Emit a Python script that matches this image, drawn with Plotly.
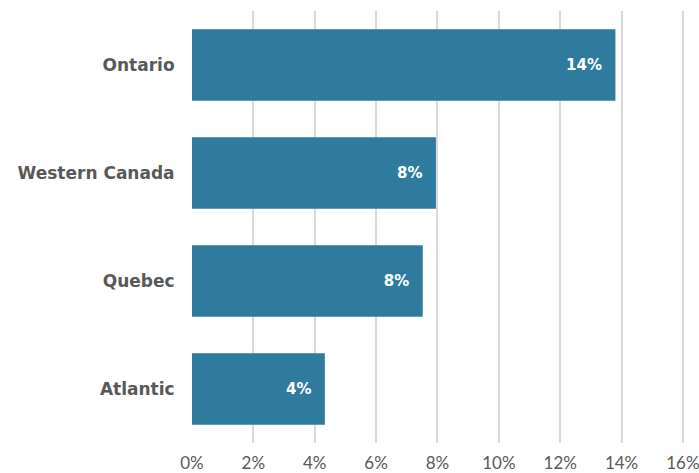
import plotly.graph_objects as go

categories = ["Ontario", "Western Canada", "Quebec", "Atlantic"]
values = [13.8, 7.95, 7.52, 4.33]
labels = ["14%", "8%", "8%", "4%"]
tick_vals = [0, 2, 4, 6, 8, 10, 12, 14, 16]
tick_text = ["0%", "2%", "4%", "6%", "8%", "10%", "12%", "14%", "16%"]

fig = go.Figure(go.Bar(
    y=categories, x=values, orientation="h",
    marker=dict(color="#2e7b9e", line=dict(width=0)),
    text=[t + "  " for t in labels], textposition="inside", insidetextanchor="end",
    textfont=dict(family="DejaVu Sans", size=15, color="white", weight="bold"),
    cliponaxis=False,
))
fig.update_layout(
    width=699, height=473,
    margin=dict(l=192, r=13, t=11, b=30),
    paper_bgcolor="white", plot_bgcolor="white",
    bargap=0.34, showlegend=False,
    font=dict(family="Lato", color="#595959"),
)
fig.update_xaxes(range=[0, 16.1], tickvals=tick_vals, ticktext=tick_text,
                 showgrid=True, gridcolor="#d9d9d9", gridwidth=2,
                 zeroline=False, showline=False, automargin=False,
                 ticklabeloverflow="allow",
                 ticks="outside", ticklen=5, tickcolor="rgba(0,0,0,0)",
                 tickfont=dict(family="Lato", size=17, color="#595959"))
fig.update_yaxes(categoryorder="array", categoryarray=categories[::-1],
                 showgrid=False, zeroline=False, showline=False, automargin=False,
                 ticks="outside", ticklen=13, tickcolor="rgba(0,0,0,0)",
                 tickfont=dict(family="DejaVu Sans", size=17, color="#595959", weight="bold"))
fig.write_html("out.html", config={"displayModeBar": False},
               post_script="document.body.style.margin='0';document.body.style.overflow='hidden';")
